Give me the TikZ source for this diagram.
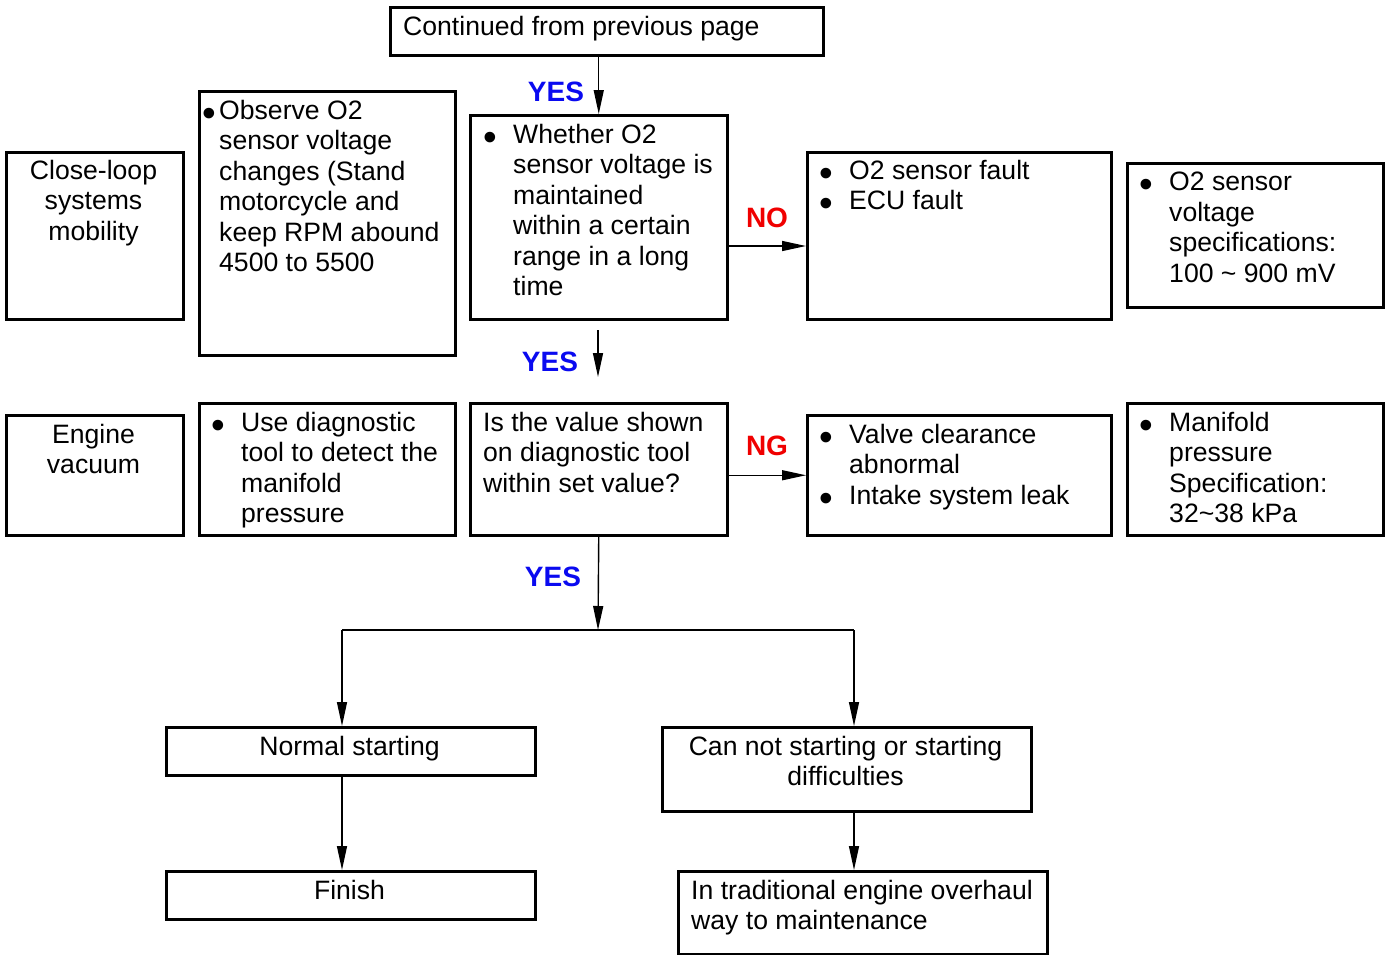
\documentclass[tikz,border=0pt]{standalone}
\usepackage{fontspec}
\setmainfont{Liberation Sans}
\usetikzlibrary{arrows.meta}
\definecolor{yesblue}{HTML}{0A0AF0}
\definecolor{nored}{HTML}{F00000}
\newcommand{\dotb}{\raisebox{-7pt}[0pt][0pt]{\fontsize{39}{39}\selectfont\textbullet}}
\newcommand{\bul}{\llap{\dotb\hspace{16pt}}}

\begin{document}
\begin{tikzpicture}[x=1pt, y=-1pt,
    box/.style 2 args={draw, line width=2.5pt, minimum width=#1, minimum height=#2,
        anchor=north west, inner sep=0pt},
    txt/.style={font=\fontsize{26.6}{30.5}\selectfont, align=left, inner sep=0pt, anchor=north west},
    ctxt/.style={font=\fontsize{26.6}{30.5}\selectfont, align=center, inner sep=0pt, anchor=north},
    yes/.style={font=\fontsize{28}{30}\selectfont\bfseries, text=yesblue},
    no/.style={font=\fontsize{28}{30}\selectfont\bfseries, text=nored},
    arr/.style={-{Triangle[length=24pt, width=10pt]}, line width=1.4pt}
]
    \useasboundingbox (0,0) rectangle (1390,954);

    % Start
    \node[box={433}{48}] (top) at (389,6) {};
    \node[txt] (top-t) at (403,16) {Continued from previous page};

    % Row 1: O2 sensor
    \node[box={177}{167}] (close) at (5,151) {};
    \node[ctxt] (close-t) at (93.5,160) {Close-loop\\systems\\mobility};

    \node[box={256}{264}] (obs) at (198,90) {};
    \node[txt] (obs-t) at (219,100) {\llap{\dotb\hspace{3pt}}Observe O2\\sensor voltage\\changes (Stand\\motorcycle and\\keep RPM abound\\4500 to 5500};

    \node[box={257}{204}] (whether) at (469,114) {};
    \node[txt] (whether-t) at (513,124) {\bul Whether O2\\sensor voltage is\\maintained\\within a certain\\range in a long\\time};

    \node[box={304}{167}] (fault) at (806,151) {};
    \node[txt] (fault-t) at (849,160) {\bul O2 sensor fault\\\bul ECU fault};

    \node[box={256}{144}] (spec1) at (1126,162) {};
    \node[txt] (spec1-t) at (1169,172) {\bul O2 sensor\\voltage\\specifications:\\100 \char"007E{} 900 mV};

    % Row 2: manifold pressure
    \node[box={177}{120}] (vac) at (5,414) {};
    \node[ctxt] (vac-t) at (93.5,424) {Engine\\vacuum};

    \node[box={256}{132}] (diag) at (198,402) {};
    \node[txt] (diag-t) at (241,412) {\bul Use diagnostic\\tool to detect the\\manifold\\pressure};

    \node[box={257}{132}] (isval) at (469,402) {};
    \node[txt] (isval-t) at (483,412) {Is the value shown\\on diagnostic tool\\within set value?};

    \node[box={304}{120}] (valve) at (806,414) {};
    \node[txt] (valve-t) at (849,424) {\bul Valve clearance\\abnormal\\\bul Intake system leak};

    \node[box={256}{132}] (spec2) at (1126,402) {};
    \node[txt] (spec2-t) at (1169,412) {\bul Manifold\\pressure\\Specification:\\32\char"007E{}38 kPa};

    % Bottom
    \node[box={369}{48}] (normal) at (165,726) {};
    \node[ctxt] (normal-t) at (349.5,736) {Normal starting};

    \node[box={369}{84}] (cannot) at (661,726) {};
    \node[ctxt] (cannot-t) at (845.5,736) {Can not starting or starting\\difficulties};

    \node[box={369}{48}] (finish) at (165,870) {};
    \node[ctxt] (finish-t) at (349.5,880) {Finish};

    \node[box={369}{83}] (trad) at (677,870) {};
    \node[txt] (trad-t) at (691,880) {In traditional engine overhaul\\way to maintenance};

    % Connectors
    \coordinate (no-y) at (0,246);
    \coordinate (y2s) at (598,330);
    \coordinate (y2e) at (598,377);
    \coordinate (split) at (598,630);
    \coordinate (sl) at (342,630);
    \coordinate (sr) at (854,630);

    \draw[arr] (whether.north |- top.south) -- (whether.north);
    \draw[arr] (whether.east |- no-y) -- (fault.west |- no-y);
    \draw[arr] (y2s) -- (y2e);
    \draw[arr] (isval.east |- valve.west) -- (valve.west);
    \draw[arr] (isval.south) -- (split);
    \draw[line width=1.4pt] (sl) -- (sr);
    \draw[arr] (sl) -- (sl |- normal.north);
    \draw[arr] (sr) -- (sr |- cannot.north);
    \draw[arr] (sl |- normal.south) -- (sl |- finish.north);
    \draw[arr] (sr |- cannot.south) -- (sr |- trad.north);

    % Labels
    \node[yes] (yes1) at (556,92) {YES};
    \node[no]  (no1)  at (767,218) {NO};
    \node[yes] (yes2) at (550,362) {YES};
    \node[no]  (ng1)  at (767,446) {NG};
    \node[yes] (yes3) at (553,577) {YES};
\end{tikzpicture}
\end{document}
